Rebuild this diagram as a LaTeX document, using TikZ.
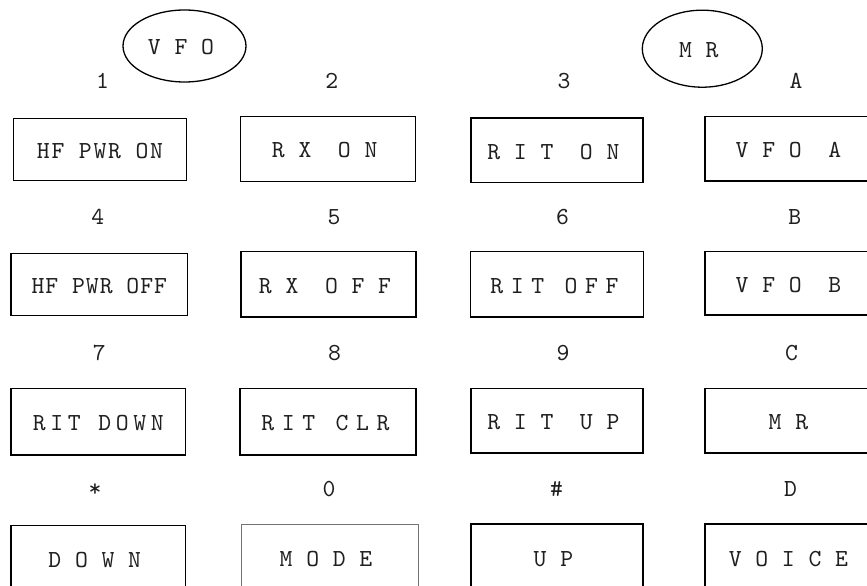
\documentclass[tikz,border=0pt]{standalone}
\usepackage{fontspec}
\usetikzlibrary{shapes.geometric}
\newfontfamily\kfa[LetterSpace=56]{lmmono10-regular.otf}
\newfontfamily\kfb[LetterSpace=31]{lmmono10-regular.otf}
\newfontfamily\kfd[LetterSpace=19]{lmmono10-regular.otf}
\newfontfamily\kfe[LetterSpace=7]{lmmono10-regular.otf}
\newfontfamily\kff[LetterSpace=4]{lmmono10-regular.otf}
\newfontfamily\kfl{lmmono10-regular.otf}
\newcommand\kbsize{\fontsize{24.5bp}{28bp}\selectfont}
\begin{document}
\begin{tikzpicture}[x=1bp,y=-1bp,
  keytext/.style={font=\kfa\kbsize, text=black!88, text height=18bp, text depth=0bp},
  keybox/.style={draw, line width=1.5bp, inner sep=0pt, keytext},
  widekey/.style={keybox, execute at end node={\kern7bp}},
  midkey/.style={keybox, font=\kfb\kbsize, execute at end node={\kern5bp}},
  modebox/.style={widekey, draw=black!55, line width=0.9bp},
  keylabel/.style={font=\kfl\kbsize, text=black!88, anchor=base, inner sep=0pt},
  oval/.style={draw, ellipse, line width=1.3bp, inner sep=0pt, keytext, execute at end node={\kern7bp}}]
\useasboundingbox (0,0) rectangle (867,586);
% ellipses
\node[oval, minimum width=123bp, minimum height=72bp] (vfo) at (184.5,46) {VFO};
\node[oval, minimum width=120bp, minimum height=77bp] (mrov) at (702.3,48.7) {MR};
% row 1
\node[keybox, minimum width=173.4bp, minimum height=62.4bp, font=\kfe\kbsize] (hfon) at (100,149.5) {HF PWR ON};
\node[widekey, minimum width=175bp, minimum height=65bp] (rxon) at (328.2,148.8) {RX ON};
\node[widekey, minimum width=172.3bp, minimum height=64.7bp] (riton) at (556.9,150.3) {RIT ON};
\node[widekey, minimum width=174.3bp, minimum height=64.7bp] (vfoa) at (791.9,148.7) {VFO A};
% row 2
\node[keybox, minimum width=176.7bp, minimum height=62bp, font=\kff\kbsize] (hfoff) at (99.3,284.3) {HF PWR OFF};
\node[widekey, minimum width=175bp, minimum height=65.3bp] (rxoff) at (328.5,284.3) {RX OFF};
\node[midkey, minimum width=172.6bp, minimum height=65.3bp] (ritoff) at (557,284.3) {RIT OFF};
\node[widekey, minimum width=174.3bp, minimum height=63.3bp] (vfob) at (791.9,283.3) {VFO B};
% row 3
\node[keybox, minimum width=174.7bp, minimum height=66.7bp, font=\kfd\kbsize] (ritdown) at (98.3,421.7) {RIT DOWN};
\node[midkey, minimum width=176bp, minimum height=66.7bp] (ritclr) at (328,421.7) {RIT CLR};
\node[widekey, minimum width=172.3bp, minimum height=64.7bp] (ritup) at (556.9,420.7) {RIT UP};
\node[widekey, minimum width=174.3bp, minimum height=64.7bp] (mrkey) at (791.9,420.7) {MR};
% row 4
\node[widekey, minimum width=174.7bp, minimum height=65.3bp] (down) at (98.3,558.3) {DOWN};
\node[modebox, minimum width=177bp, minimum height=66bp] (mode) at (329.5,557) {MODE};
\node[widekey, minimum width=172.3bp, minimum height=66bp] (up) at (556.9,557) {UP};
\node[widekey, minimum width=174.3bp, minimum height=66bp] (voice) at (791.9,557) {VOICE};
% labels
\node[keylabel] (l1) at (102.5,89) {1};
\node[keylabel] (l2) at (331.7,89) {2};
\node[keylabel] (l3) at (564,89) {3};
\node[keylabel] (lA) at (796,89) {A};
\node[keylabel] (l4) at (97.8,225) {4};
\node[keylabel] (l5) at (334,225) {5};
\node[keylabel] (l6) at (562.5,225) {6};
\node[keylabel] (lB) at (794.8,225) {B};
\node[keylabel] (l7) at (99.2,360) {7};
\node[keylabel] (l8) at (334.5,360) {8};
\node[keylabel] (l9) at (563,360) {9};
\node[keylabel] (lC) at (791.5,360) {C};
\node[keylabel] (lstar) at (95,496) {*};
\node[keylabel] (l0) at (329,496) {0};
\node[keylabel] (lhash) at (556.5,496) {\#};
\node[keylabel] (lD) at (790.5,496) {D};
\end{tikzpicture}
\end{document}
